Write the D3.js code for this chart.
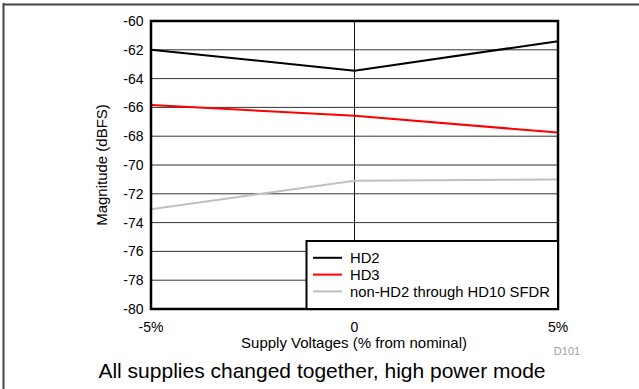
<!DOCTYPE html>
<html><head><meta charset="utf-8">
<script src="https://cdn.jsdelivr.net/npm/d3@7/dist/d3.min.js"></script>
<style>body{margin:0;background:#fff}svg{display:block;font-family:"Liberation Sans",Arial,sans-serif}</style>
</head><body><svg id="c" width="639" height="389"></svg>
<script>
const categories = [-5, 0, 5];
const xTickLabels = ["-5%", "0", "5%"];
const yTicks = [-60,-62,-64,-66,-68,-70,-72,-74,-76,-78,-80];
const hd2 = [-62.0, -63.45, -61.4];
const hd3 = [-65.83, -66.58, -67.75];
const sfdr = [-73.08, -71.09, -71.0];
const seriesNames = ["HD2", "HD3", "non-HD2 through HD10 SFDR"];
const seriesColors = ["#000000", "#ff0000", "#c0c0c0"];

const svg = d3.select("#c");
const L = 151, R = 558, T = 21, B = 309;
const x = d3.scaleLinear().domain([-5, 5]).range([L, R]);
const y = d3.scaleLinear().domain([-80, -60]).range([B, T]);

// frame
svg.append("line").attr("x1",3.5).attr("x2",3.5).attr("y1",3).attr("y2",389).attr("stroke","#444").attr("stroke-width",2);
svg.append("line").attr("x1",3).attr("x2",639).attr("y1",4.5).attr("y2",4.5).attr("stroke","#444").attr("stroke-width",2);

// gridlines
svg.append("g").selectAll("line").data(yTicks).join("line")
  .attr("x1",L).attr("x2",R).attr("y1",d=>y(d)).attr("y2",d=>y(d))
  .attr("stroke","#333").attr("stroke-width",1);
svg.append("g").selectAll("line").data(categories).join("line")
  .attr("x1",d=>x(d)).attr("x2",d=>x(d)).attr("y1",T).attr("y2",B)
  .attr("stroke","#111").attr("stroke-width",1);

// series
const line = d3.line().x((d,i)=>x(categories[i])).y(d=>y(d));
[hd2, hd3, sfdr].forEach((s,k)=>{
  svg.append("path").datum(s).attr("d",line).attr("fill","none")
    .attr("stroke",seriesColors[k]).attr("stroke-width",2);
});

// plot frame
svg.append("rect").attr("x",L).attr("y",T).attr("width",R-L).attr("height",B-T)
  .attr("fill","none").attr("stroke","#000").attr("stroke-width",2.5);

// y ticks
svg.append("g").selectAll("text").data(yTicks).join("text")
  .attr("x",143.5).attr("y",d=>y(d)).attr("dy","0.36em").attr("text-anchor","end")
  .attr("font-size",14).attr("fill","#000").text(d=>d);
// x ticks
svg.append("g").selectAll("text").data(categories).join("text")
  .attr("x",d=>x(d)).attr("y",332).attr("text-anchor","middle")
  .attr("font-size",14).attr("fill","#000").text((d,i)=>xTickLabels[i]);

svg.append("text").attr("x",354).attr("y",348).attr("text-anchor","middle")
  .attr("font-size",15).text("Supply Voltages (% from nominal)");
svg.append("text").attr("transform","translate(107,165) rotate(-90)").attr("text-anchor","middle")
  .attr("font-size",15).text("Magnitude (dBFS)");
svg.append("text").attr("x",567).attr("y",355).attr("text-anchor","middle")
  .attr("font-size",11).attr("fill","#a0a0a0").text("D101");
svg.append("text").attr("x",322).attr("y",378).attr("text-anchor","middle")
  .attr("font-size",21).text("All supplies changed together, high power mode");

// legend
const lg = svg.append("g");
lg.append("rect").attr("x",306.5).attr("y",241).attr("width",R-306.5).attr("height",B-241)
  .attr("fill","#fff").attr("stroke","#000").attr("stroke-width",2);
seriesNames.forEach((n,i)=>{
  const yy = 257.8 + i*16.8;
  lg.append("line").attr("x1",313).attr("x2",342).attr("y1",yy).attr("y2",yy)
    .attr("stroke",seriesColors[i]).attr("stroke-width",2);
  lg.append("text").attr("x",350).attr("y",yy).attr("dy","0.36em")
    .attr("font-size",14.8).text(n);
});
</script></body></html>
